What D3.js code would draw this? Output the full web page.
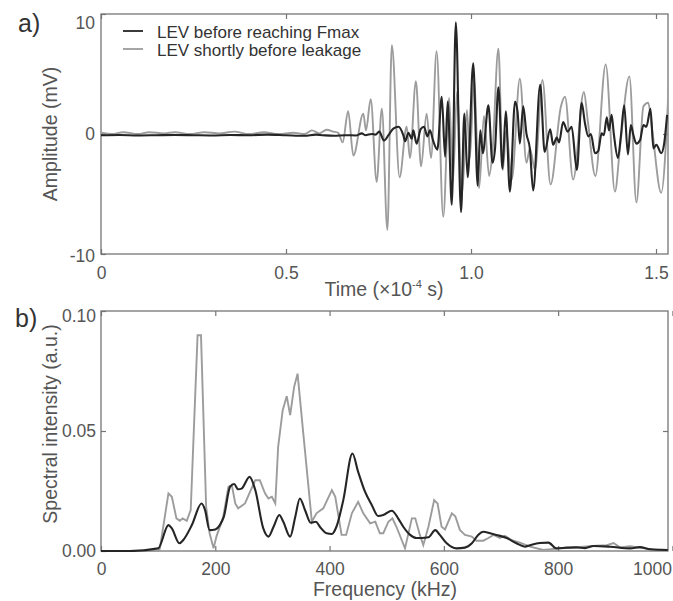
<!DOCTYPE html>
<html>
<head>
<meta charset="utf-8">
<script src="https://cdn.jsdelivr.net/npm/d3@7"></script>
<style>
  body { margin: 0; background: #fff; }
  text { font-family: "Liberation Sans", Arial, sans-serif; }
</style>
</head>
<body>
<div id="chart"></div>
<script>
// ---- panel a) : waveforms, time in 1e-4 s, amplitude in mV ----
const timeBefore = [
  0, 0.05, 0.1, 0.15, 0.2, 0.25, 0.3, 0.35, 0.4, 0.45,
  0.5, 0.55, 0.58, 0.6, 0.63, 0.66, 0.69, 0.705, 0.714, 0.732,
  0.742, 0.752, 0.765, 0.777, 0.790, 0.804, 0.817, 0.822, 0.831, 0.840,
  0.844, 0.853, 0.864, 0.873, 0.882, 0.889, 0.898, 0.909, 0.921, 0.930,
  0.937, 0.948, 0.959, 0.973, 0.982, 0.991, 1.006, 1.018, 1.025, 1.032,
  1.047, 1.058, 1.065, 1.074, 1.085, 1.094, 1.105, 1.119, 1.126, 1.132,
  1.141, 1.150, 1.159, 1.168, 1.187, 1.199, 1.214, 1.222, 1.232, 1.238,
  1.249, 1.261, 1.272, 1.286, 1.299, 1.308, 1.317, 1.324, 1.335, 1.344,
  1.353, 1.359, 1.367, 1.373, 1.380, 1.386, 1.397, 1.405, 1.414, 1.424,
  1.432, 1.439, 1.447, 1.457, 1.466, 1.474, 1.485, 1.493, 1.501, 1.514,
  1.522, 1.530];
const ampBefore = [
  -0.1, -0.08, -0.12, -0.1, -0.08, -0.1, -0.12, -0.08, -0.1, -0.05,
  -0.1, -0.15, -0.05, -0.1, -0.15, -0.1, -0.12, 0.05, -0.1, 0.0,
  -0.05, 0.2, -0.55, -0.1, 0.45, 0.6, -0.1, -0.6, 0.1, -0.4,
  0.3, -0.8, 0.4, 0.6, -0.2, 0.3, -0.6, -1.3, 3.1, -1.9,
  2.7, -5.9, 9.3, -6.5, 1.7, -3.6, 5.9, -4.3, 0.3, -1.6,
  2.4, -2.4, -1.2, 3.9, -2.9, 1.9, -4.8, 2.7, 1.8, -0.8,
  2.3, 0.0, -1.2, -4.7, 4.1, -1.5, 0.4, -0.9, -0.3, -0.7,
  1.0, 0.2, 0.6, -3.0, 2.6, 0.9, -0.2, 0.0, -1.6, -1.4,
  0.05, -0.1, 1.4, 0.3, 1.6, 0.0, -2.0, -0.2, 2.4, -1.7,
  0.75, -0.1, -0.8, -0.5, 0.75, 0.6, 2.1, -1.2, -0.9, -1.6,
  -0.8, 1.6];

const timeLeak = [
  0, 0.03, 0.06, 0.1, 0.13, 0.17, 0.2, 0.24, 0.28, 0.32,
  0.36, 0.4, 0.44, 0.48, 0.52, 0.55, 0.57, 0.59, 0.61, 0.628,
  0.641, 0.653, 0.668, 0.682, 0.709, 0.716, 0.729, 0.745, 0.759,
  0.774, 0.786, 0.807, 0.826, 0.835, 0.851, 0.865, 0.880, 0.892, 0.907,
  0.925, 0.941, 0.951, 0.962, 0.976, 0.989, 0.997, 1.008, 1.022, 1.035,
  1.049, 1.058, 1.074, 1.086, 1.095, 1.110, 1.132, 1.150, 1.159, 1.173,
  1.193, 1.215, 1.243, 1.254, 1.276, 1.305, 1.316, 1.336, 1.364, 1.389,
  1.403, 1.428, 1.447, 1.466, 1.479, 1.489, 1.514, 1.535];
const ampLeak = [
  0.1, 0.0, 0.15, 0.0, 0.15, 0.05, 0.15, 0.0, 0.15, 0.05,
  0.2, 0.0, 0.15, 0.0, 0.1, 0.0, 0.3, 0.05, 0.35, 0.2,
  0.1, -0.7, 1.9, -1.8, 1.7, 0.3, 2.9, -4.0, 2.1,
  -8.0, 7.4, -3.6, 0.6, -2.0, 4.4, -2.7, 1.7, -2.0, 6.9,
  -6.9, 3.0, -4.0, 3.5, -5.0, 2.0, -2.0, 4.5, -4.5, 1.5,
  -3.5, -1.5, 7.1, -3.0, 0.3, -3.8, 4.6, -2.4, -1.2, -3.0,
  4.5, -4.2, 2.3, 3.1, -3.8, 3.5, 1.0, -3.5, 5.8, -4.8,
  -1.0, 4.8, -5.7, 2.3, 2.6, 0.5, -4.9, 4.5];

const timeTicks = [0, 0.5, 1.0, 1.5];
const ampTicks = [-10, 0, 10];

// ---- panel b) : spectra, frequency in kHz ----
const freqBefore = [
  0, 50, 100, 118, 124, 137, 144, 159, 176, 182,
  190, 200, 208, 215, 226, 233, 240, 246, 260, 270,
  284, 293, 302, 312, 319, 331, 340, 348, 357, 367,
  376, 383, 395, 404, 412, 424, 440, 450, 462, 474,
  485, 494, 509, 520, 529, 541, 552, 561, 573, 585,
  593, 605, 622, 637, 649, 660, 669, 681, 692, 710,
  727, 742, 751, 768, 783, 797, 815, 832, 847, 862,
  891, 926, 943, 961, 992];
const specBefore = [
  0, 0, 0.0011, 0.0108, 0.0094, 0.0032, 0.0046, 0.0108, 0.0198, 0.0171,
  0.0087, 0.009, 0.0108, 0.0143, 0.0268, 0.0279, 0.0257, 0.026, 0.0309, 0.0254,
  0.0094, 0.006, 0.0101, 0.015, 0.0122, 0.006, 0.0143, 0.0219, 0.0171, 0.0118,
  0.0122, 0.0101, 0.0074, 0.0071, 0.0101, 0.0212, 0.0406, 0.033, 0.0247, 0.0191,
  0.0146, 0.015, 0.0168, 0.0136, 0.0101, 0.0067, 0.0054, 0.0054, 0.0057, 0.0087,
  0.0067, 0.0032, 0.0011, 0.0014, 0.0032, 0.0067, 0.008, 0.0074, 0.0067, 0.0054,
  0.0032, 0.0018, 0.0024, 0.0033, 0.0035, 0.0011, 0.0014, 0.0015, 0.0012, 0.0021,
  0.0018, 0.0011, 0.0016, 0.0007, 0.0004];

const freqLeak = [
  0, 50, 100, 103, 118, 124, 132, 138, 143, 150,
  157, 169, 175, 184, 190, 197, 202, 214, 223, 229,
  235, 240, 252, 261, 270, 278, 287, 293, 299, 305,
  310, 318, 325, 331, 338, 344, 354, 369, 377, 389,
  404, 410, 421, 429, 439, 450, 459, 471, 480, 488,
  494, 503, 510, 517, 532, 544, 550, 558, 564, 573,
  583, 589, 596, 602, 614, 620, 628, 637, 649, 657,
  669, 678, 687, 698, 707, 719, 733, 751, 774, 797,
  821, 844, 867, 885, 897, 908, 926, 949, 966, 992];
const specLeak = [
  0, 0, 0, 0.001, 0.024, 0.0226, 0.0136, 0.0126, 0.0136, 0.0126,
  0.0171, 0.0899, 0.0899, 0.0184, 0.0074, 0.0011, 0.006, 0.0143, 0.0268, 0.0274,
  0.0198, 0.0178, 0.0198, 0.0247, 0.0295, 0.0295, 0.024, 0.0219, 0.0226, 0.0198,
  0.0434, 0.0587, 0.0645, 0.0566, 0.0684, 0.0739, 0.049, 0.0122, 0.0157, 0.0178,
  0.0254, 0.0226, 0.0067, 0.0067, 0.0157, 0.0205, 0.0157, 0.0115, 0.0122, 0.0074,
  0.0074, 0.0122, 0.0136, 0.0101, 0.0011, 0.0136, 0.0136, 0.0067, 0.0025, 0.0101,
  0.0212, 0.0198, 0.0101, 0.009, 0.0157, 0.0145, 0.0088, 0.0067, 0.006, 0.0043,
  0.0043, 0.0054, 0.0067, 0.0054, 0.0063, 0.0045, 0.0035, 0.0018, 0.0004, 0.001,
  0.0013, 0.0018, 0.0022, 0.0024, 0.0033, 0.0015, 0.002, 0.0012, 0.0006, 0.0004];

const freqTicks = [0, 200, 400, 600, 800, 1000];
const specTicks = [0, 0.05, 0.10];

const seriesNames = ["LEV before reaching Fmax", "LEV shortly before leakage"];

const darkColor = "#252525", greyColor = "#9c9c9c", frameColor = "#757575", labelColor = "#555";
const width = 673, height = 601;
const plotLeft = 101, plotRight = 668;

const svg = d3.select("#chart")
    .append("svg")
    .attr("width", width)
    .attr("height", height);

// frame + inward ticks on all four sides, MATLAB style
function drawFrame(x, y, top, bottom, xTicks, yTicks, xFmt, yFmt, rightTicks, xPad, yPad) {
  const styleAxis = g => {
    g.select(".domain").remove();
    g.attr("font-family", null).attr("font-size", 17.5);
    g.selectAll(".tick line").attr("stroke", frameColor).attr("stroke-width", 1.2);
    g.selectAll(".tick text").attr("fill", labelColor);
  };

  const gx = svg.append("g")
      .attr("transform", `translate(0, ${bottom})`)
      .call(d3.axisBottom(x).tickValues(xTicks).tickFormat(xFmt).tickSizeInner(-5).tickSizeOuter(0).tickPadding(xPad))
      .call(styleAxis);

  svg.append("g")
      .attr("transform", `translate(0, ${top})`)
      .call(d3.axisTop(x).tickValues(xTicks).tickFormat("").tickSizeInner(-5).tickSizeOuter(0))
      .call(styleAxis);

  const gy = svg.append("g")
      .attr("transform", `translate(${plotLeft}, 0)`)
      .call(d3.axisLeft(y).tickValues(yTicks).tickFormat(yFmt).tickSizeInner(-5).tickSizeOuter(0).tickPadding(yPad))
      .call(styleAxis);

  svg.append("g")
      .attr("transform", `translate(${plotRight}, 0)`)
      .call(d3.axisRight(y).tickValues(rightTicks).tickFormat("").tickSizeInner(-5).tickSizeOuter(0))
      .call(styleAxis);

  svg.append("rect")
      .attr("x", plotLeft).attr("y", top)
      .attr("width", plotRight - plotLeft).attr("height", bottom - top)
      .attr("fill", "none").attr("stroke", frameColor).attr("stroke-width", 1.3);

  return { gx, gy };
}

function addClip(id, top, bottom) {
  svg.append("clipPath").attr("id", id)
    .append("rect")
      .attr("x", plotLeft).attr("y", top - 2)
      .attr("width", plotRight - plotLeft).attr("height", bottom - top + 3);
}

// ================= panel a =================
const topA = 14, bottomA = 254;
const xA = d3.scaleLinear().domain([0, 1.5324]).range([plotLeft, plotRight]);
const yA = d3.scaleLinear().domain([-10, 10]).range([bottomA, topA]);

const axesA = drawFrame(xA, yA, topA, bottomA, timeTicks, ampTicks,
    d => d === 0 ? "0" : d3.format(".1f")(d), d => String(d), [0], 13, 6);
axesA.gy.selectAll(".tick").filter(d => d === 10).select("text").attr("y", 9);
axesA.gy.selectAll(".tick").filter(d => d === -10).select("text").attr("y", 2);

addClip("clipA", topA, bottomA);

const lineA = (xs, ys) => d3.line()
    .x((d, i) => xA(xs[i]))
    .y((d, i) => yA(ys[i]))
    .curve(d3.curveMonotoneX)(ys);

svg.append("path")
    .attr("clip-path", "url(#clipA)")
    .attr("d", lineA(timeLeak, ampLeak))
    .attr("fill", "none").attr("stroke", greyColor).attr("stroke-width", 1.9);

svg.append("path")
    .attr("clip-path", "url(#clipA)")
    .attr("d", lineA(timeBefore, ampBefore))
    .attr("fill", "none").attr("stroke", darkColor).attr("stroke-width", 2.1);

// legend
const legend = svg.append("g");
const legendEntry = legend.selectAll("g")
    .data(seriesNames)
    .enter().append("g")
    .attr("transform", (d, i) => `translate(123, ${31 + i * 18})`);
legendEntry.append("line")
    .attr("x1", 0).attr("x2", 20)
    .attr("stroke", (d, i) => i === 0 ? darkColor : greyColor)
    .attr("stroke-width", 1.8);
legendEntry.append("text")
    .attr("x", 34).attr("y", 6.5)
    .attr("font-size", 17).attr("fill", "#333")
    .text(d => d);

// axis titles
svg.append("text")
    .attr("transform", "rotate(-90)")
    .attr("x", -134).attr("y", 57)
    .style("text-anchor", "middle")
    .attr("font-size", 19.5).attr("fill", labelColor)
    .text("Amplitude (mV)");

const timeTitle = svg.append("text")
    .attr("x", 384).attr("y", 296)
    .style("text-anchor", "middle")
    .attr("font-size", 19.5).attr("fill", labelColor);
timeTitle.append("tspan").text("Time (×10");
timeTitle.append("tspan").attr("font-size", 11).attr("dy", -8).text("-4");
timeTitle.append("tspan").attr("dy", 8).text(" s)");

svg.append("text")
    .attr("x", 18).attr("y", 32)
    .attr("font-size", 25).attr("fill", "#333")
    .text("a)");

// ================= panel b =================
const topB = 311, bottomB = 551;
const xB = d3.scaleLinear().domain([0, 992.25]).range([plotLeft, plotRight]);
const yB = d3.scaleLinear().domain([0, 0.10]).range([bottomB, topB]);

const axesB = drawFrame(xB, yB, topB, bottomB, freqTicks, specTicks,
    d => d3.format("d")(d), d => d3.format(".2f")(d), [0.05], 12, 5);
axesB.gx.selectAll(".tick").filter(d => d === 1000).select("text")
    .style("text-anchor", "end").attr("dx", -1);
axesB.gy.selectAll(".tick").filter(d => d === 0.10).select("text").attr("y", 5);

addClip("clipB", topB, bottomB);

svg.append("path")
    .attr("clip-path", "url(#clipB)")
    .attr("d", d3.line()
        .x((d, i) => xB(freqLeak[i]))
        .y(d => yB(d))(specLeak))
    .attr("fill", "none").attr("stroke", greyColor).attr("stroke-width", 1.9);

svg.append("path")
    .attr("clip-path", "url(#clipB)")
    .attr("d", d3.line()
        .x((d, i) => xB(freqBefore[i]))
        .y(d => yB(d))
        .curve(d3.curveMonotoneX)(specBefore))
    .attr("fill", "none").attr("stroke", darkColor).attr("stroke-width", 2.1);

svg.append("text")
    .attr("transform", "rotate(-90)")
    .attr("x", -424).attr("y", 57)
    .style("text-anchor", "middle")
    .attr("font-size", 19.5).attr("fill", labelColor)
    .text("Spectral intensity (a.u.)");

svg.append("text")
    .attr("x", 385).attr("y", 596)
    .style("text-anchor", "middle")
    .attr("font-size", 19.5).attr("fill", labelColor)
    .text("Frequency (kHz)");

svg.append("text")
    .attr("x", 15).attr("y", 327)
    .attr("font-size", 25).attr("fill", "#333")
    .text("b)");
</script>
</body>
</html>
